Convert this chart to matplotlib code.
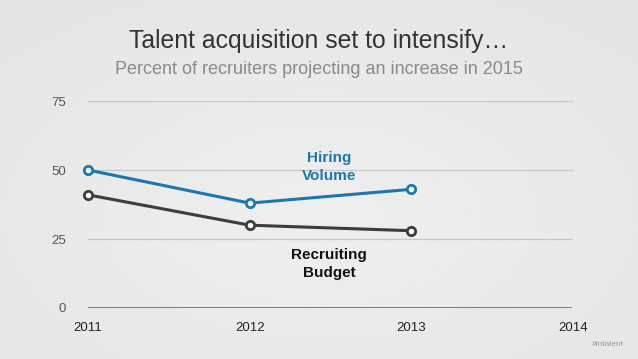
import matplotlib
matplotlib.use("Agg")
import matplotlib.pyplot as plt
import numpy as np

years = [2011, 2012, 2013]
hiring_volume = [50, 38, 43]
recruiting_budget = [41, 30, 28]
x_ticks = [2011, 2012, 2013, 2014]
y_ticks = [0, 25, 50, 75]

plt.rcParams['font.family'] = ['Liberation Sans', 'DejaVu Sans']

W, H = 638, 359
fig = plt.figure(figsize=(W/100, H/100), dpi=100)
# background gradient
bg = fig.add_axes([0, 0, 1, 1], zorder=-10)
yy, xx = np.mgrid[0:1:200j, 0:1:200j]
grad = 0.935 - 0.05*np.sqrt((xx-0.5)**2 + (yy-0.6)**2)
bg.imshow(grad, cmap='gray', vmin=0, vmax=1, aspect='auto', extent=[0, 1, 0, 1])
bg.axis('off')

ax = fig.add_axes([88/W, (H-308)/H, (573-88)/W, (308-101)/H])
ax.patch.set_alpha(0)
ax.set_xlim(2011, 2014)
ax.set_ylim(0, 75)
for y in y_ticks[1:]:
    ax.axhline(y, color='#c6c7c9', lw=0.9, zorder=1)
ax.axhline(0, color='#6a6a6a', lw=1.2, zorder=1, xmax=0.995)
for s in ax.spines.values():
    s.set_visible(False)
ax.set_xticks(x_ticks)
ax.set_yticks(y_ticks)
ax.tick_params(length=0, labelsize=9.5, colors='#222222')
ax.tick_params(axis='x', pad=10)
ax.tick_params(axis='y', pad=16)
for lab in ax.get_yticklabels():
    lab.set_color('#555555')

blue = '#1a78b0'
dark = '#3d3d40'
ax.plot(years, hiring_volume, color=blue, lw=2.2, marker='o', ms=6, mfc='white',
        mec=blue, mew=2, zorder=3, clip_on=False)
ax.plot(years, recruiting_budget, color=dark, lw=2.2, marker='o', ms=6, mfc='white',
        mec=dark, mew=2, zorder=3, clip_on=False)

ax.text(2012.49, 51.2, 'Hiring\nVolume', color=blue, fontsize=11, fontweight='bold',
        ha='center', va='center', linespacing=1.35)
ax.text(2012.49, 15.8, 'Recruiting\nBudget', color='#111111', fontsize=11, fontweight='bold',
        ha='center', va='center', linespacing=1.35)

fig.text(0.5, 1-41/H, 'Talent acquisition set to intensify…', ha='center', va='center',
         fontsize=17.8, color='#333333')
fig.text(0.5, 1-69/H, 'Percent of recruiters projecting an increase in 2015', ha='center',
         va='center', fontsize=13, color='#8a8a8a')
fig.text(608/W, 1-345/H, '#intalent', ha='center', va='center', fontsize=6, color='#999999')

fig.savefig('out.png', dpi=100)
